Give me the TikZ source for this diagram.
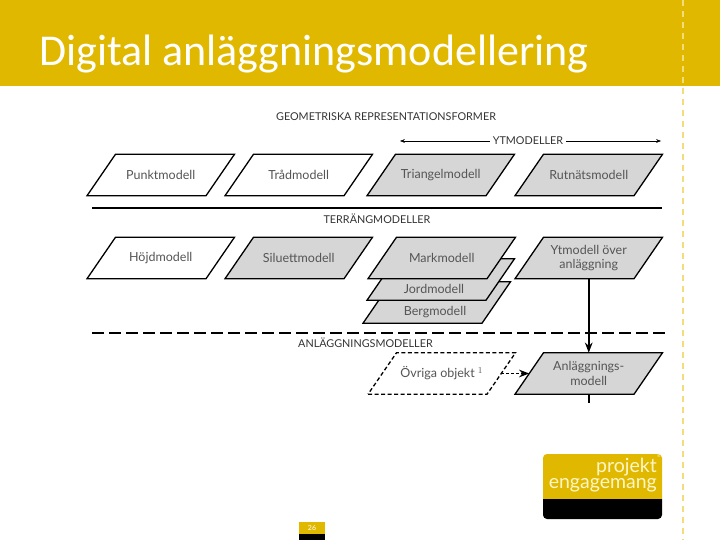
\documentclass[tikz,border=0pt]{standalone}
\usepackage{fontspec}
\setmainfont{Lato}
\newfontfamily\titlefont{Carlito}
\usetikzlibrary{arrows.meta}
\definecolor{headyellow}{HTML}{E1B800}
\definecolor{dashyellow}{HTML}{F2DC7C}
\definecolor{modelgray}{HTML}{D6D6D6}
\definecolor{labelgray}{HTML}{555555}
\definecolor{logotext}{HTML}{FFF6C8}
\newcommand{\modelbox}[4][graymodel]{
    \draw[#1] (#3) ++(-73.75,20.75) -- ++(119,0) -- ++(28.5,-41.5) -- ++(-119,0) -- cycle;
    \node[modeltext] (#2) at (#3) {#4};
}

\begin{document}
\begin{tikzpicture}[x=1pt, y=-1pt, >=Stealth,
    whitemodel/.style={fill=white, line width=1.3pt},
    graymodel/.style={fill=modelgray, line width=1.3pt},
    modeltext/.style={minimum width=119pt, minimum height=41.5pt, inner sep=0pt, outer sep=0pt,
        align=center, text=labelgray, font=\fontsize{12.5}{14.5}\selectfont},
    stacktext/.style={inner sep=0pt, text=labelgray, font=\fontsize{12.5}{14.5}\selectfont},
    heading/.style={font=\fontsize{10.8}{12}\selectfont, inner sep=3pt, text=black!80}]
    \useasboundingbox (0,0) rectangle (720,540);

    % header and margin line
    \fill[headyellow] (0,0) rectangle (720,86);
    \draw[dashyellow, line width=1.3pt, dash pattern=on 6pt off 5pt] (683,0) -- (683,540);
    \node[anchor=base west, inner sep=0pt, white] (title) at (39,66)
        {\titlefont\fontsize{44}{46}\selectfont Digital anläggningsmodellering};

    % headings
    \node[heading] (geometri) at (386,117) {GEOMETRISKA REPRESENTATIONSFORMER};
    \node[heading] (ytlabel) at (528,141) {YTMODELLER};
    \node[heading] (terrang) at (377,219) {TERRÄNGMODELLER};
    \node[heading, anchor=west, inner sep=0pt] (anlagg) at (298,343) {ANLÄGGNINGSMODELLER};

    % yt arrows
    \coordinate (ytleft) at (400,141);
    \coordinate (ytright) at (661,141);
    \draw[->, thin] (ytlabel) -- (ytleft);
    \draw[->, thin] (ytlabel) -- (ytright);

    % first row
    \modelbox[whitemodel]{punkt}{160.75,175}{Punktmodell}
    \modelbox[whitemodel]{trad}{298.75,175}{Trådmodell}
    \modelbox{triangel}{440.75,175}{Triangelmodell}
    \modelbox{rutnat}{588.75,175}{Rutnätsmodell}

    % separators
    \coordinate (solidleft) at (92,208);
    \coordinate (solidright) at (662,208);
    \coordinate (dashleft) at (92,333);
    \coordinate (dashright) at (665,333);
    \draw[line width=2.6pt] (solidleft) -- (solidright);
    \draw[line width=2.6pt, dash pattern=on 11.5pt off 5.5pt] (dashleft) -- (dashright);

    % second row, stacked models first
    \modelbox{berg}{436.75,302.5}{}
    \modelbox{jord}{440.75,279.5}{}
    \modelbox{mark}{441.75,258}{Markmodell}
    \node[stacktext] (jordtext) at (434,289) {Jordmodell};
    \node[stacktext] (bergtext) at (435,312) {Bergmodell};
    \modelbox[whitemodel]{hojd}{160.75,258}{Höjdmodell}
    \modelbox{siluett}{298.75,258}{Siluettmodell}
    \modelbox{ytover}{588.75,258}{Ytmodell över\\anläggning}

    % third row
    \modelbox[whitemodel, dash pattern=on 4pt off 2.5pt]{ovriga}{441.75,373.5}{Övriga objekt $^1$}
    \modelbox{anlmodell}{588.75,373.5}{Anläggnings-\\modell}
    \coordinate (stub) at (588.75,403);

    % connectors
    \draw[->, line width=1.6pt] (ytover) -- (anlmodell);
    \draw[->, line width=1.6pt, dash pattern=on 3pt off 2pt] (ovriga) -- (anlmodell);
    \draw[line width=1.6pt] (anlmodell) -- (stub);

    % logo
    \fill[headyellow] (543,499) [rounded corners=4pt] -- (543,454) -- (662,454) [sharp corners] -- (662,499) -- cycle;
    \fill[black] (662,499) [rounded corners=4pt] -- (662,519) -- (543,519) [sharp corners] -- (543,499) -- cycle;
    \node[anchor=north east, inner sep=0pt, align=right, logotext,
        font=\fontsize{19.5}{15.5}\selectfont] (logolabel) at (657,458) {projekt\\engagemang};
    \node[inner sep=0pt, logotext, font=\fontsize{4.5}{5}\selectfont] (reg) at (659,456) {®};

    % page tab
    \fill[headyellow] (299,522) rectangle (325,534);
    \fill[black] (299,534) rectangle (325,540);
    \node[white, font=\fontsize{7}{8}\selectfont, inner sep=0pt] (page) at (312,528) {26};
\end{tikzpicture}
\end{document}
